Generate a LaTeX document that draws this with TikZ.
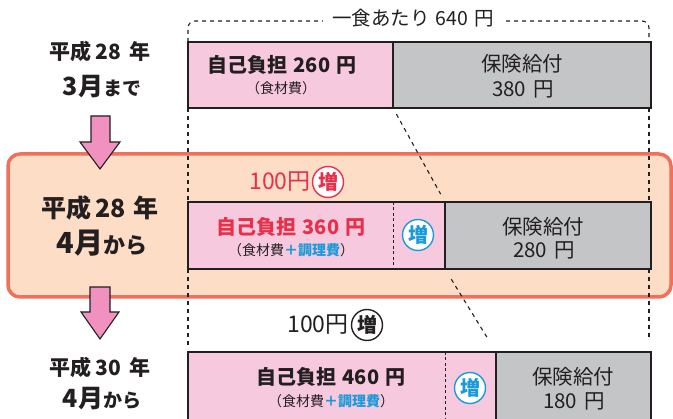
\documentclass[tikz,border=0pt]{standalone}
\usepackage{fontspec}
\setmainfont{Noto Sans CJK JP}
\definecolor{ink}{HTML}{231F20}
\definecolor{selfpink}{HTML}{F6C9DE}
\definecolor{benefitgray}{HTML}{C4C5C7}
\definecolor{arrowpink}{HTML}{F191C0}
\definecolor{boxorange}{HTML}{F0705A}
\definecolor{boxfill}{HTML}{FDDDC5}
\definecolor{upred}{HTML}{E8304A}
\definecolor{upblue}{HTML}{1A9AD8}
\tikzset{
  bar/.style={draw=ink, line width=1.5pt},
  guide/.style={draw=ink, line width=1.1pt, dash pattern=on 4pt off 4pt},
  pinkarrow/.style={draw=ink, fill=arrowpink, line width=1.1pt, line join=miter},
  era/.style={text=ink, font=\bfseries, inner sep=0pt},
  title/.style={text=ink, font=\bfseries\fontsize{20}{22}\selectfont, inner sep=0pt},
  subtitle/.style={text=ink, font=\fontsize{14}{16}\selectfont, inner sep=0pt},
  amount/.style={text=ink, font=\fontsize{20.5}{22}\selectfont, inner sep=0pt},
  upmark/.style={circle, fill=white, line width=1.4pt, inner sep=0pt, minimum size=31pt,
    font=\bfseries\fontsize{20}{20}\selectfont},
}
\begin{document}
\begin{tikzpicture}[x=1pt, y=-1pt]
\useasboundingbox (0,0) rectangle (673,419);

% 平成28年4月からの枠
\draw[boxorange, fill=boxfill, line width=3.5pt, rounded corners=12pt] (8,154) rectangle (671,297);

% 一食あたりの幅
\coordinate (left1) at (188,42);
\coordinate (right1) at (649,42);
\draw[guide, rounded corners=7pt] (left1) -- (188,21) -- (649,21) -- (right1);
\node[fill=white, text=ink, font=\fontsize{19.5}{21}\selectfont, inner xsep=9pt, inner ysep=1pt] (meal) at (413,18) {一食あたり\hspace{6pt}640\hspace{6pt}円};

\coordinate (split1) at (393,108);
\coordinate (split2top) at (445,202);
\coordinate (split2) at (445,269);
\coordinate (split3top) at (496,352);
\draw[guide] (188,108) -- (188,202);
\draw[guide] (188,269) -- (188,349);
\draw[guide] (649,108) -- (649,202);
\draw[guide] (649,269) -- (649,340);
\draw[guide, shorten <=7pt, shorten >=9pt] (split1) -- (split2top);
\draw[guide, shorten <=12pt, shorten >=14pt] (split2) -- (split3top);

% 平成28年3月まで
\fill[selfpink] (188,42) rectangle (393,108);
\fill[benefitgray] (393,42) rectangle (651,108);
\draw[bar] (188,42) rectangle (651,108);
\draw[bar] (393,42) -- (393,108);
\node[title] (self1) at (282,65) {自己負担\hspace{6pt}260\hspace{6pt}円};
\node[subtitle] (food1) at (281,88) {（食材費）};
\node[amount] (ins1) at (522,64) {保険給付};
\node[amount] (pay1) at (523,89) {380\hspace{7pt}円};

% 平成28年4月から
\node[text=upred, font=\fontsize{23}{24}\selectfont, inner sep=0pt] (plus1) at (280,182) {100円};
\node[upmark, draw=upred, text=upred] (up1) at (328,182) {増};
\fill[selfpink] (188,202) rectangle (445,269);
\fill[benefitgray] (445,202) rectangle (651,269);
\draw[bar] (188,202) rectangle (651,269);
\draw[bar] (445,202) -- (445,269);
\draw[draw=ink, line width=1pt, dash pattern=on 3pt off 2.5pt] (393,202) -- (393,269);
\node[title, text=upred] (self2) at (291,227) {自己負担\hspace{6pt}360\hspace{6pt}円};
\node[subtitle] (food2) at (291,250) {（食材費{\color{upblue}\bfseries ＋調理費}）};
\node[upmark, draw=upblue, text=upblue] (up2) at (418,235) {増};
\node[amount] (ins2) at (543,227) {保険給付};
\node[amount] (pay2) at (544,250) {280\hspace{7pt}円};

% 平成30年4月から
\node[text=ink, font=\fontsize{23}{24}\selectfont, inner sep=0pt] (plus2) at (318,325) {100円};
\node[upmark, draw=ink, text=ink] (up3) at (367,325) {増};
\fill[selfpink] (188,352) rectangle (496,425);
\fill[benefitgray] (496,352) rectangle (651,425);
\draw[bar] (188,425) -- (188,352) -- (651,352) -- (651,425);
\draw[bar] (496,352) -- (496,425);
\draw[draw=ink, line width=1pt, dash pattern=on 3pt off 2.5pt] (445,352) -- (445,425);
\node[title] (self3) at (331,377) {自己負担\hspace{6pt}460\hspace{6pt}円};
\node[subtitle] (food3) at (331,401) {（食材費{\color{upblue}\bfseries ＋調理費}）};
\node[upmark, draw=upblue, text=upblue] (up4) at (470,388) {増};
\node[amount] (ins3) at (573,377) {保険給付};
\node[amount] (pay3) at (574,401) {180\hspace{7pt}円};

% 左の時期
\node[era, font=\bfseries\fontsize{21}{22}\selectfont] (era1) at (100,52) {平成\hspace{4pt}28\hspace{8pt}年};
\node[era] (month1) at (102,87) {{\fontsize{25}{26}\selectfont 3月}{\fontsize{19}{20}\selectfont まで}};
\node[era, font=\bfseries\fontsize{25}{26}\selectfont] (era2) at (100,208) {平成\hspace{4pt}28\hspace{8pt}年};
\node[era] (month2) at (102,243) {{\fontsize{29}{30}\selectfont 4月}{\fontsize{22}{24}\selectfont から}};
\node[era, font=\bfseries\fontsize{21}{22}\selectfont] (era3) at (100,368) {平成\hspace{4pt}30\hspace{8pt}年};
\node[era] (month3) at (102,399) {{\fontsize{25}{26}\selectfont 4月}{\fontsize{19}{20}\selectfont から}};

% 矢印
\draw[pinkarrow] (91,116) -- (110,116) -- (110,142) -- (120,142) -- (100,169) -- (80,142) -- (91,142) -- cycle;
\draw[pinkarrow] (90,287) -- (110,287) -- (110,312) -- (119,312) -- (100,339) -- (81,312) -- (90,312) -- cycle;
\end{tikzpicture}
\end{document}
